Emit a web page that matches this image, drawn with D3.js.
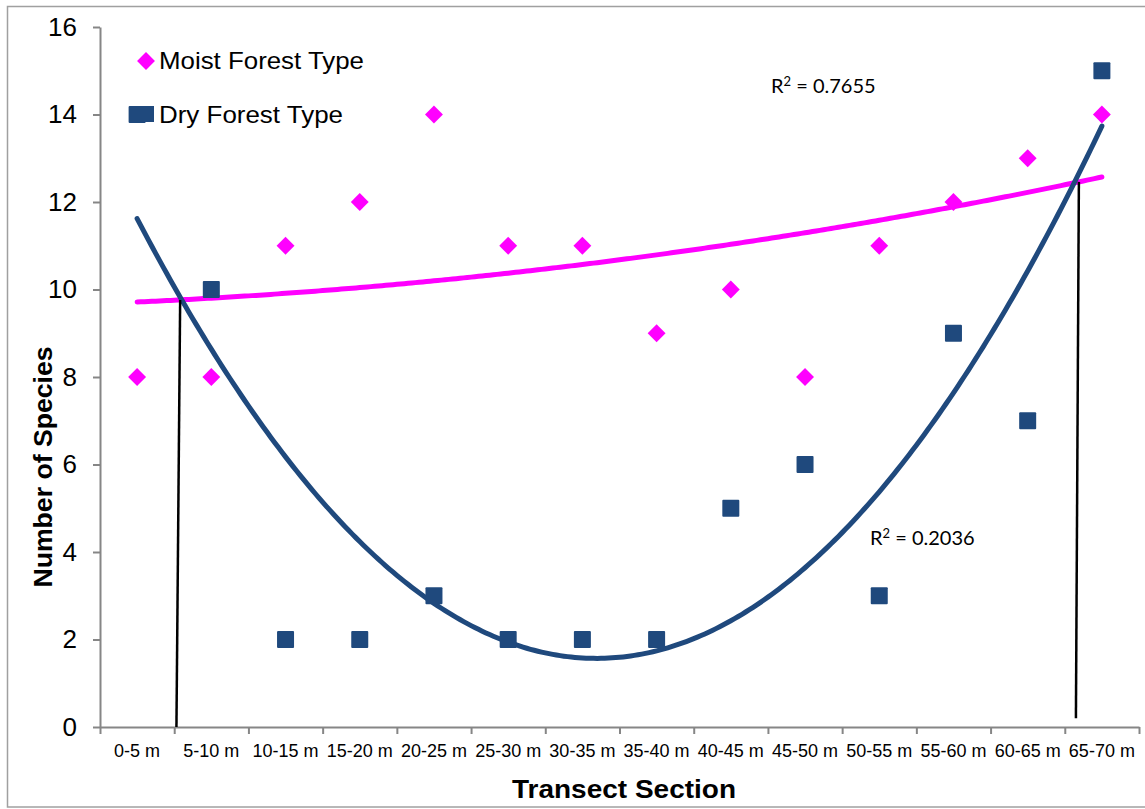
<!DOCTYPE html>
<html>
<head>
<meta charset="utf-8">
<script src="https://cdn.jsdelivr.net/npm/d3@7"></script>
<style>
  html, body { margin: 0; padding: 0; background: #fff; }
  svg { display: block; }
  text { font-family: "Liberation Sans", Arial, sans-serif; fill: #000; }
</style>
</head>
<body>
<svg id="chart" width="1145" height="809"></svg>
<script>
// Transect sections along the x axis
const sections = ["0-5 m", "5-10 m", "10-15 m", "15-20 m", "20-25 m", "25-30 m", "30-35 m",
                  "35-40 m", "40-45 m", "45-50 m", "50-55 m", "55-60 m", "60-65 m", "65-70 m"];

// Species counts per section
const moistCounts = [8, 8, 11, 12, 14, 11, 11, 9, 10, 8, 11, 12, 13, 14];
const dryCounts   = [14, 10, 2, 2, 3, 2, 2, 2, 5, 6, 3, 9, 7, 15];

// Y axis ticks
const yTicks = [0, 2, 4, 6, 8, 10, 12, 14, 16];

// Series names and R² labels of the polynomial trendlines
const seriesNames = ["Moist Forest Type", "Dry Forest Type"];
const r2Labels = ["0.7655", "0.2036"];

// Vertical marker lines where the two trendlines cross (section units / species)
const dropLines = [
  { xTop: 1.58, xBottom: 1.53, yBottom: 0 },
  { xTop: 13.69, xBottom: 13.65, yBottom: 0.2 }
];

const MOIST = "#ff00ff";
const DRY = "#1f497d";
const AXIS = "#868686";

const svg = d3.select("#chart");

const plot = { left: 100, right: 1139, top: 27, bottom: 727 };

// x in "section units": section i is centred at i + 1, spanning i + 0.5 .. i + 1.5
const x = d3.scaleLinear().domain([0.5, sections.length + 0.5]).range([plot.left, plot.right]);
const y = d3.scaleLinear().domain([0, 16]).range([plot.bottom, plot.top]);

// Outer frame
svg.append("rect")
  .attr("x", 7.5).attr("y", 6.5)
  .attr("width", 1145).attr("height", 800.5)
  .attr("fill", "none").attr("stroke", "#a0a0a0").attr("stroke-width", 1.5);

// Least-squares quadratic fit y = a + b x + c x^2
function quadFit(xs, ys) {
  const n = xs.length;
  let s = [0, 0, 0, 0, 0], t = [0, 0, 0];
  for (let i = 0; i < n; i++) {
    const xi = xs[i], yi = ys[i];
    for (let k = 0; k <= 4; k++) s[k] += Math.pow(xi, k);
    for (let k = 0; k <= 2; k++) t[k] += Math.pow(xi, k) * yi;
  }
  const M = [[s[0], s[1], s[2], t[0]], [s[1], s[2], s[3], t[1]], [s[2], s[3], s[4], t[2]]];
  for (let i = 0; i < 3; i++) {
    for (let j = i + 1; j < 3; j++) {
      const f = M[j][i] / M[i][i];
      for (let k = i; k < 4; k++) M[j][k] -= f * M[i][k];
    }
  }
  const r = [0, 0, 0];
  for (let i = 2; i >= 0; i--) {
    let v = M[i][3];
    for (let k = i + 1; k < 3; k++) v -= M[i][k] * r[k];
    r[i] = v / M[i][i];
  }
  return xv => r[0] + r[1] * xv + r[2] * xv * xv;
}

const xs = sections.map((_, i) => i + 1);
const moistFit = quadFit(xs, moistCounts);
const dryFit = quadFit(xs, dryCounts);

// Axes
const yAxis = d3.axisLeft(y).tickValues(yTicks).tickSize(7).tickSizeOuter(0).tickPadding(16);
const gy = svg.append("g").attr("transform", `translate(${plot.left},0)`).call(yAxis);
gy.select(".domain").attr("stroke", AXIS).attr("stroke-width", 2);
gy.selectAll(".tick line").attr("stroke", AXIS).attr("stroke-width", 2);
gy.selectAll(".tick text")
  .attr("font-family", "Liberation Sans, Arial, sans-serif")
  .attr("font-size", 26).attr("fill", "#000");

const xAxis = d3.axisBottom(x)
  .tickValues(d3.range(0, sections.length + 1).map(i => i + 0.5))
  .tickSize(7).tickSizeOuter(0).tickFormat("");
const gx = svg.append("g").attr("transform", `translate(0,${plot.bottom})`).call(xAxis);
gx.select(".domain").attr("stroke", AXIS).attr("stroke-width", 2);
gx.selectAll(".tick line").attr("stroke", AXIS).attr("stroke-width", 2);

svg.append("g").selectAll("text").data(sections).join("text")
  .attr("x", (d, i) => x(i + 1))
  .attr("y", 757)
  .attr("text-anchor", "middle")
  .attr("font-size", 18)
  .text(d => d);

// Axis titles
svg.append("text")
  .attr("x", 624).attr("y", 798)
  .attr("text-anchor", "middle")
  .attr("font-size", 26).attr("font-weight", "bold")
  .attr("textLength", 224).attr("lengthAdjust", "spacingAndGlyphs")
  .text("Transect Section");

svg.append("text")
  .attr("transform", "translate(52,467) rotate(-90)")
  .attr("text-anchor", "middle")
  .attr("font-size", 26).attr("font-weight", "bold")
  .attr("textLength", 241).attr("lengthAdjust", "spacingAndGlyphs")
  .text("Number of Species");

// Trendlines
const curvePts = d3.range(1, sections.length + 0.001, 0.05);
const line = fit => d3.line().x(d => x(d)).y(d => y(fit(d))).curve(d3.curveLinear)(curvePts);

svg.append("path").attr("d", line(moistFit))
  .attr("fill", "none").attr("stroke", MOIST).attr("stroke-width", 5).attr("stroke-linecap", "round");
svg.append("path").attr("d", line(dryFit))
  .attr("fill", "none").attr("stroke", DRY).attr("stroke-width", 5).attr("stroke-linecap", "round");

// Drop lines from the crossing points to the axis
svg.append("g").selectAll("line").data(dropLines).join("line")
  .attr("x1", d => x(d.xTop)).attr("y1", d => y(moistFit(d.xTop)))
  .attr("x2", d => x(d.xBottom)).attr("y2", d => y(d.yBottom))
  .attr("stroke", "#000").attr("stroke-width", 2.5);

// Markers
const diamond = d3.symbol().type(d3.symbolSquare).size(160);
svg.append("g").selectAll("path").data(moistCounts).join("path")
  .attr("d", diamond)
  .attr("transform", (d, i) => `translate(${x(i + 1)},${y(d)}) rotate(45)`)
  .attr("fill", MOIST);

const sq = 17;
svg.append("g").selectAll("rect").data(dryCounts).join("rect")
  .attr("x", (d, i) => x(i + 1) - sq / 2)
  .attr("y", d => y(d) - sq / 2)
  .attr("width", sq).attr("height", sq)
  .attr("rx", 1)
  .attr("fill", DRY);

// Legend
svg.append("path").attr("d", diamond)
  .attr("transform", "translate(146,61) rotate(45)")
  .attr("fill", MOIST);
svg.append("text").attr("x", 159).attr("y", 69).attr("font-size", 24)
  .attr("textLength", 205).attr("lengthAdjust", "spacingAndGlyphs")
  .text(seriesNames[0]);

svg.append("rect").attr("x", 137).attr("y", 106).attr("width", 17).attr("height", 16)
  .attr("fill", DRY);
svg.append("text").attr("x", 159).attr("y", 123).attr("font-size", 24)
  .attr("textLength", 184).attr("lengthAdjust", "spacingAndGlyphs")
  .text(seriesNames[1]);

// R² labels
const r2 = svg.append("g");
[[771, 93, r2Labels[0]], [870, 545, r2Labels[1]]].forEach(([lx, ly, v]) => {
  const t = r2.append("text").attr("x", lx).attr("y", ly).attr("font-size", 20)
    .style("font-family", "Lato, 'Open Sans', sans-serif");
  t.append("tspan").text("R");
  t.append("tspan").attr("dy", -7).attr("font-size", 13).text("2");
  t.append("tspan").attr("dy", 7).text(" = " + v);
});
</script>
</body>
</html>
